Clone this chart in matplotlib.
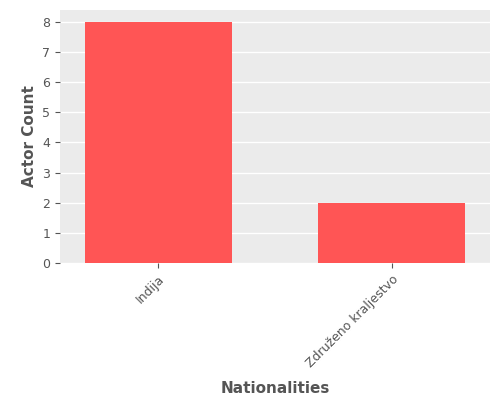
import matplotlib
matplotlib.use("Agg")
import matplotlib.pyplot as plt

nationalities = ["Indija", "Združeno kraljestvo"]
actor_counts = [8, 2]

plt.rcParams["font.family"] = "DejaVu Sans"
fig = plt.figure(figsize=(5, 4), dpi=100)
ax = fig.add_axes([0.12, 0.343, 0.86, 0.632])
ax.set_facecolor("#EBEBEB")
ax.bar(range(len(nationalities)), actor_counts, width=0.63, color="#FF5555", zorder=3)
ax.set_xlim(-0.42, 1.42)
ax.set_ylim(0, 8.4)
ax.set_yticks(range(0, 9))
ax.set_xticks(range(len(nationalities)))
ax.set_xticklabels(nationalities, rotation=45, ha="right", rotation_mode="anchor")
ax.grid(axis="y", color="white", linewidth=1, zorder=0)
for s in ax.spines.values():
    s.set_visible(False)
ax.tick_params(colors="#555555", labelsize=9, labelcolor="#555555")
ax.set_ylabel("Actor Count", color="#555555", fontsize=11, fontweight="bold")
ax.set_xlabel("Nationalities", color="#555555", fontsize=11, fontweight="bold", labelpad=8)
fig.savefig("out.png", dpi=100)
